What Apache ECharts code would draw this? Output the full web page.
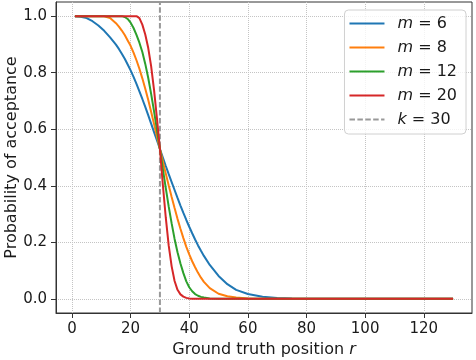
<!DOCTYPE html>
<html>
<head>
<meta charset="utf-8">
<script src="https://cdn.jsdelivr.net/npm/echarts@6/dist/echarts.min.js"></script>
<style>
html,body{margin:0;padding:0;background:#fff;}
#chart{width:476px;height:360px;}
</style>
</head>
<body>
<div id="chart"></div>
<script>
// Ground truth positions (shared x grid)
const rGrid = [1,3,5,7,9,11,13,15,16,17,18,19,20,21,22,23,24,25,26,27,28,29,30,31,32,33,34,35,36,37,38,39,40,41,42,43,44,45,47,50,53,56,60,65,70,75,80,90,100,110,120,130];
// Probability of acceptance for each m
const m6  = [1.000,0.998,0.993,0.982,0.967,0.948,0.925,0.899,0.884,0.867,0.849,0.829,0.808,0.785,0.760,0.734,0.707,0.679,0.650,0.620,0.590,0.560,0.530,0.500,0.470,0.441,0.413,0.385,0.357,0.330,0.304,0.279,0.255,0.232,0.210,0.189,0.170,0.152,0.120,0.081,0.052,0.032,0.017,0.0075,0.003,0.001,0.0003,0,0,0,0,0];
const m8  = [1,1,1,1,1.000,0.9995,0.993,0.975,0.963,0.949,0.933,0.914,0.895,0.871,0.844,0.814,0.780,0.743,0.704,0.662,0.618,0.574,0.530,0.486,0.443,0.401,0.360,0.321,0.283,0.248,0.215,0.184,0.157,0.133,0.112,0.092,0.075,0.060,0.038,0.018,0.009,0.0045,0.0013,0.0002,0,0,0,0,0,0,0,0];
const m12 = [1,1,1,1,1,1,1,1,1,1.000,0.997,0.990,0.977,0.958,0.934,0.906,0.873,0.831,0.782,0.725,0.663,0.597,0.530,0.459,0.392,0.326,0.267,0.212,0.165,0.125,0.091,0.062,0.041,0.027,0.017,0.011,0.007,0.0045,0.0016,0.0003,0,0,0,0,0,0,0,0,0,0,0,0];
const m20 = [1,1,1,1,1,1,1,1,1,1,1,1,1,1,1.000,0.993,0.970,0.935,0.888,0.823,0.738,0.637,0.530,0.403,0.287,0.188,0.115,0.063,0.032,0.016,0.008,0.0035,0.0015,0.0005,0,0,0,0,0,0,0,0,0,0,0,0,0,0,0,0,0,0];
const seriesNames = ['m = 6','m = 8','m = 12','m = 20'];
const kValue = 30;
const kName = 'k = 30';
// Axis ticks
const xTicks = [0,20,40,60,80,100,120];
const yTicks = [0,0.2,0.4,0.6,0.8,1.0];
const xRange = [-5.45, 136.45];
const yRange = [-0.05, 1.05];

const colors = ['#1f77b4','#ff7f0e','#2ca02c','#d62728'];
const values = [m6, m8, m12, m20];
const font = 'DejaVu Sans';
const txt = '#1a1a1a';
const solidIcon = 'path://M0,0H35V2H0Z';
const dashIcon = 'path://M0,0H5.5V2H0Z M7.9,0H13.4V2H7.9Z M15.8,0H21.3V2H15.8Z M23.7,0H29.2V2H23.7Z M31.6,0H35V2H31.6Z';

const chart = echarts.init(document.getElementById('chart'), null, {renderer:'canvas'});
const series = values.map((vals, i) => ({
  name: seriesNames[i],
  type: 'line',
  symbol: 'none',
  showSymbol: false,
  z: 3,
  data: rGrid.map((r, j) => [r, vals[j]]),
  lineStyle: {width: 2, color: colors[i]},
  itemStyle: {color: colors[i]}
}));
series.push({
  name: kName,
  type: 'line',
  symbol: 'none',
  showSymbol: false,
  z: 2,
  data: [[kValue, yRange[0]], [kValue, yRange[1]]],
  lineStyle: {width: 2, color: '#999999', type: [5.5, 2.4]},
  itemStyle: {color: '#999999'}
});

chart.setOption({
  animation: false,
  backgroundColor: '#fff',
  grid: {left: 56, right: 4, top: 2, bottom: 47, show: true, borderColor: '#333', borderWidth: 1,
    containLabel: false, outerBoundsMode: 'none'},
  xAxis: {
    type: 'value', min: xRange[0], max: xRange[1],
    axisLine: {show: true, onZero: false, lineStyle: {color: '#333', width: 1}},
    axisTick: {show: true, customValues: xTicks, length: 5, lineStyle: {color: '#333'}},
    axisLabel: {customValues: xTicks, fontSize: 15, color: txt, margin: 9, fontFamily: font},
    splitLine: {show: true, lineStyle: {type: 'dotted', color: '#c4c4c4', width: 1}},
    name: 'Ground truth position {i|r}',
    nameLocation: 'middle', nameGap: 28,
    nameTextStyle: {fontSize: 16, color: txt, fontFamily: font,
      rich: {i: {fontStyle: 'italic', fontSize: 16, fontFamily: font, color: txt}}}
  },
  yAxis: {
    type: 'value', min: yRange[0], max: yRange[1],
    axisLine: {show: true, onZero: false, lineStyle: {color: '#333', width: 1}},
    axisTick: {show: true, customValues: yTicks, length: 5, lineStyle: {color: '#333'}},
    axisLabel: {customValues: yTicks, fontSize: 15, color: txt, margin: 9, fontFamily: font,
      formatter: v => Number(v).toFixed(1)},
    splitLine: {show: true, lineStyle: {type: 'dotted', color: '#c4c4c4', width: 1}},
    name: 'Probability of acceptance',
    nameLocation: 'middle', nameGap: 36, nameMoveOverlap: false,
    nameTextStyle: {fontSize: 16, color: txt, fontFamily: font}
  },
  legend: {
    orient: 'vertical', right: 10, top: 10,
    data: seriesNames.map(n => ({name: n, icon: solidIcon})).concat([{name: kName, icon: dashIcon}]),
    itemWidth: 35, itemHeight: 2, itemGap: 7,
    itemStyle: {borderWidth: 0},
    backgroundColor: 'rgba(255,255,255,0.8)', borderColor: '#d0d0d0', borderWidth: 1, borderRadius: 4,
    padding: [5, 9, 6, 5],
    formatter: name => '{p|}{i|' + name.charAt(0) + '}' + name.slice(1),
    textStyle: {fontSize: 16, lineHeight: 17, color: txt, fontFamily: font,
      rich: {
        p: {width: 8},
        i: {fontStyle: 'italic', fontSize: 16, fontFamily: font, color: txt}
      }}
  },
  series: series
});
</script>
</body>
</html>
